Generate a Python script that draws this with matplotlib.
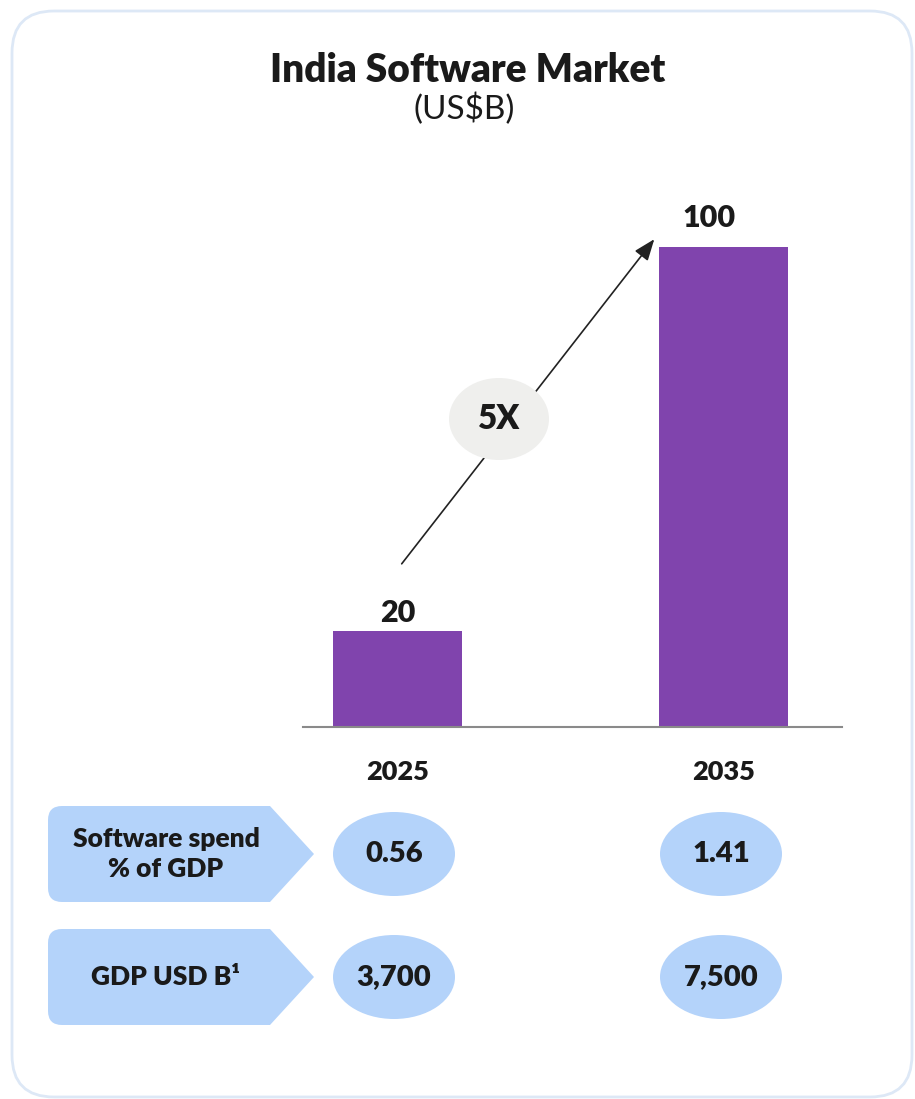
import matplotlib.pyplot as plt
from matplotlib.patches import FancyBboxPatch, Ellipse, Polygon

years = ["2025", "2035"]
market = [20, 100]
growth_label = "5X"
row_labels = ["Software spend\n% of GDP", "GDP USD B¹"]
row_values = [["0.56", "1.41"], ["3,700", "7,500"]]

purple = "#8044ad"
pale_blue = "#b4d3fa"
ink = "#1a1a1a"

plt.rcParams["font.family"] = ["Lato", "DejaVu Sans"]

W, H = 915, 1099
fig = plt.figure(figsize=(W / 100, H / 100), dpi=100)

# background layer in pixel units
bg = fig.add_axes([0, 0, 1, 1])
bg.set_xlim(0, W)
bg.set_ylim(H, 0)
bg.axis("off")

card = FancyBboxPatch((12, 11), 900, 1086, boxstyle="round,pad=0,rounding_size=42",
                      fc="white", ec="#dde8f6", lw=2)
bg.add_patch(card)

bg.text(W / 2 + 10, 71, "India Software Market", ha="center", va="center",
        fontsize=28, fontweight="heavy", color=ink)
bg.text(W / 2 + 7, 109, "(US$B)", ha="center", va="center",
        fontsize=24, color=ink)

# bar chart
left, right, base, top = 303, 842, 727, 247
ax = fig.add_axes([left / W, 1 - base / H, (right - left) / W, (base - top) / H])
ax.set_facecolor("none")
xs = [0, 1]
ax.bar(xs, market, width=0.396, color=purple, zorder=2)
ax.set_xlim(-0.29, 1.363)
ax.set_ylim(0, 100)
for s in ["top", "right", "left"]:
    ax.spines[s].set_visible(False)
ax.spines["bottom"].set_color("#8a8a8a")
ax.spines["bottom"].set_linewidth(1.5)
ax.set_yticks([])
ax.set_xticks(xs)
ax.set_xticklabels(years, fontsize=19.5, fontweight="heavy", color=ink)
ax.tick_params(axis="x", length=0, pad=24)
label_dx = [0, -0.046]
label_gap = [1.9, 4.2]
for x, v, dx, g in zip(xs, market, label_dx, label_gap):
    ax.text(x + dx, v + g, str(v), ha="center", va="baseline", fontsize=22,
            fontweight="heavy", color=ink, clip_on=False)

# growth arrow with multiplier badge
bg.annotate("", xy=(656, 237), xytext=(400, 566),
            arrowprops=dict(arrowstyle="-|>,head_length=1.3,head_width=0.5",
                            color="#222222", lw=1.2))
bg.add_patch(Ellipse((499, 419), 100, 82, fc="#efefed", ec="none", zorder=3))
bg.text(499, 419, growth_label, ha="center", va="center", fontsize=24,
        fontweight="heavy", color=ink, zorder=4)

# metric rows below the chart
row_y = [854, 977]
col_x = [394, 721]
for y, lab, vals in zip(row_y, row_labels, row_values):
    bg.add_patch(FancyBboxPatch((48, y - 48), 222, 96,
                                boxstyle="round,pad=0,rounding_size=14",
                                fc=pale_blue, ec="none"))
    bg.add_patch(Polygon([(250, y - 48), (270, y - 48), (314, y),
                          (270, y + 48), (250, y + 48)],
                         closed=True, fc=pale_blue, ec="none"))
    bg.text(166, y, lab, ha="center", va="center", fontsize=19,
            fontweight="heavy", color=ink, linespacing=1.3)
    for x, v in zip(col_x, vals):
        bg.add_patch(Ellipse((x, y), 122, 84, fc=pale_blue, ec="none"))
        bg.text(x, y, v, ha="center", va="center", fontsize=21,
                fontweight="heavy", color=ink)

fig.savefig("out.png", dpi=100)
